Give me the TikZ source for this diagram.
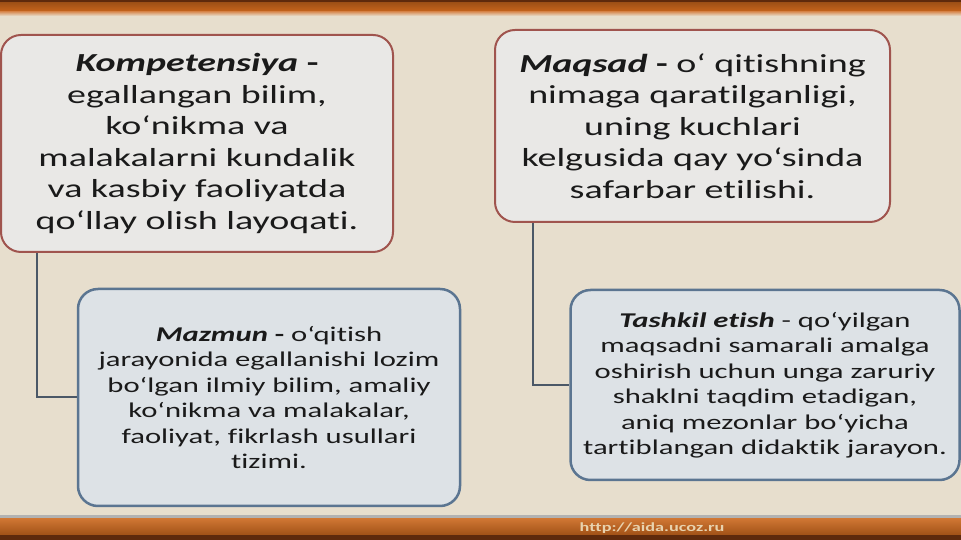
\documentclass[tikz,border=0pt]{standalone}
\usepackage{fontspec}
\setmainfont{Carlito}[FakeStretch = 1.46, Ligatures = NoCommon]
\usetikzlibrary{positioning}

\definecolor{paper}{HTML}{E7DECD}
\definecolor{barorange}{HTML}{C9661C}
\definecolor{bardark}{HTML}{5E2A0C}
\definecolor{topfill}{HTML}{E9E8E6}
\definecolor{topline}{HTML}{A0544E}
\definecolor{lowfill}{HTML}{DDE2E6}
\definecolor{lowline}{HTML}{5B7591}
\definecolor{linkgray}{HTML}{4B5867}
\definecolor{inktext}{HTML}{1A1A1A}
\definecolor{urltext}{HTML}{E8D2AE}

\tikzset{
    topbox/.style  = {draw = topline, line width = 2pt, fill = topfill, rounded corners = 20pt,
                      align = center, text = inktext, inner sep = 0pt,
                      font = \fontsize{26}{31.5}\selectfont},
    lowbox/.style  = {draw = lowline, line width = 2.5pt, fill = lowfill, rounded corners = 20pt,
                      align = center, text = inktext, inner sep = 0pt,
                      font = \fontsize{21}{25.5}\selectfont},
    link/.style    = {draw = linkgray, line width = 2pt},
}

\begin{document}
\begin{tikzpicture}[x = 1pt, y = 1pt]
                % background and bars
                \useasboundingbox (0,0) rectangle (961,540);
                \fill [paper]                                   (0,0)   rectangle (961,540);
                \fill [bardark]                                 (0,537) rectangle (961,540);
                \shade [top color = barorange!80!black, bottom color = barorange] (0,528) rectangle (961,537);
                \shade [top color = barorange!70!white, bottom color = paper] (0,524) rectangle (961,528);
                \fill [gray!60]                                 (0,21)  rectangle (961,25);
                \shade [top color = barorange!90!white, bottom color = barorange!80!black] (0,5) rectangle (961,21);
                \fill [bardark]                                 (0,0)   rectangle (961,5);

                % boxes
                \node [topbox, minimum width = 392, minimum height = 217] (kompetensiya) at (197,396.5)
                    {\textbf{\textit{Kompetensiya}} \textbf{-}\\
                     egallangan bilim,\\
                     ko‘nikma va\\
                     malakalarni kundalik\\
                     va kasbiy faoliyatda\\
                     qo‘llay olish layoqati.};
                \node [topbox, minimum width = 395, minimum height = 192] (maqsad) at (692.5,414)
                    {\textbf{\textit{Maqsad}} \textbf{-} o‘ qitishning\\
                     nimaga qaratilganligi,\\
                     uning kuchlari\\
                     kelgusida qay yo‘sinda\\
                     safarbar etilishi.};
                \node [lowbox, minimum width = 382, minimum height = 217] (mazmun) at (269,142.5)
                    {\textbf{\textit{Mazmun}} \textbf{-} o‘qitish\\
                     jarayonida egallanishi lozim\\
                     bo‘lgan ilmiy bilim, amaliy\\
                     ko‘nikma va malakalar,\\
                     faoliyat, fikrlash usullari\\
                     tizimi.};
                \node [lowbox, minimum width = 389, minimum height = 190] (tashkil) at (765,155)
                    {\textbf{\textit{Tashkil etish}} - qo‘yilgan\\
                     maqsadni samarali amalga\\
                     oshirish uchun unga zaruriy\\
                     shaklni taqdim etadigan,\\
                     aniq mezonlar bo‘yicha\\
                     tartiblangan didaktik jarayon.};

                % connectors
                \draw [link] ([xshift = 37pt] kompetensiya.south west) |- (mazmun.west);
                \draw [link] ([xshift = 39pt] maqsad.south west)       |- (tashkil.west);

                \node [text = urltext, font = \bfseries\fontsize{12.5}{14}\selectfont] (url) at (652,12) {http://aida.ucoz.ru};
            \end{tikzpicture}
\end{document}
